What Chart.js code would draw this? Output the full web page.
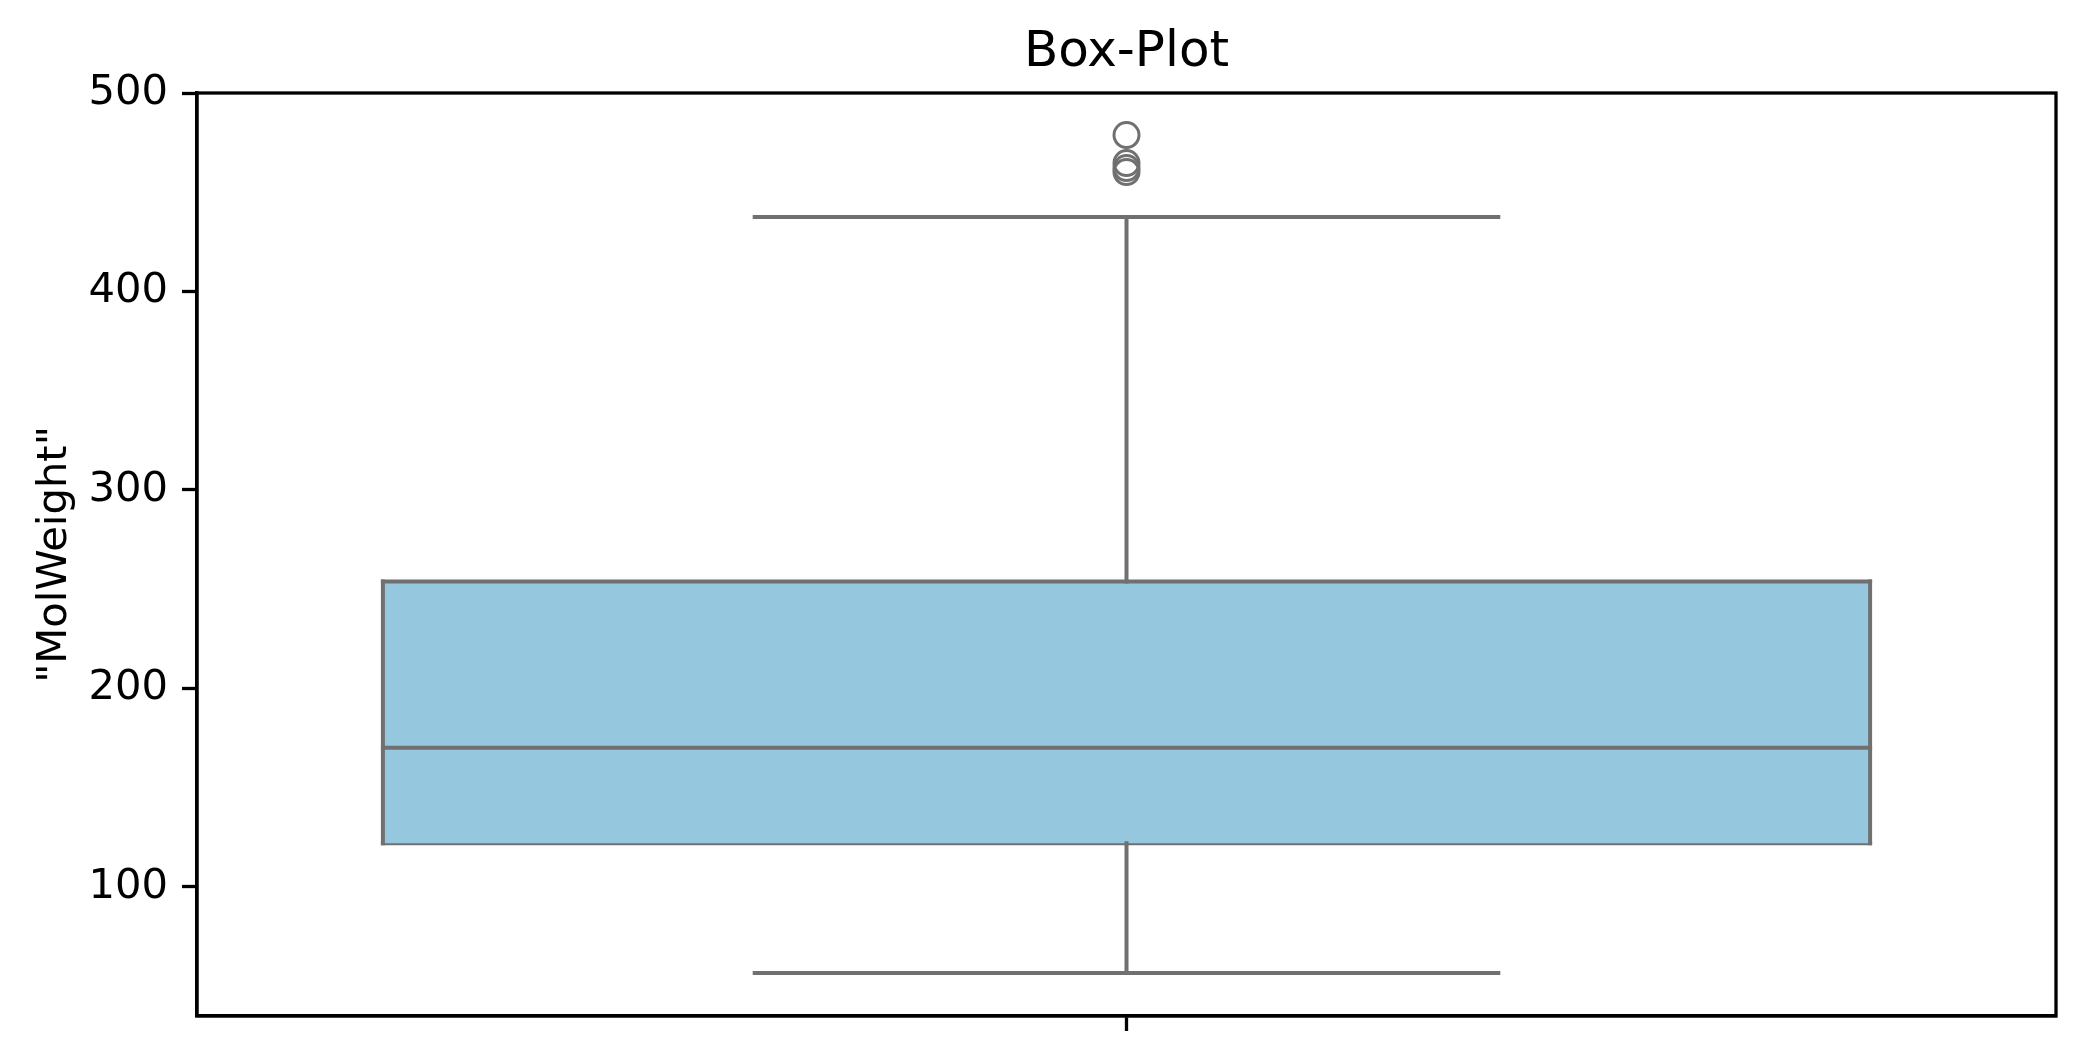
<!DOCTYPE html>
<html>
<head>
<meta charset="utf-8">
<script src="https://cdn.jsdelivr.net/npm/chart.js@4/dist/chart.umd.min.js"></script>
<style>
  html, body { margin: 0; padding: 0; background: #fff; }
  #wrap { width: 2087px; height: 1061px; }
</style>
</head>
<body>
<div id="wrap"><canvas id="box"></canvas></div>
<script>
// box plot values
const quartiles = [122, 170.2, 253.9]; // q1, median, q3
const whiskers = [56.7, 437.5]; // low, high
const outliers = [478.8, 464.7, 462.2, 460.2];
const yTicks = [100, 200, 300, 400, 500];
const xTicks = [0];

const edgeGray = "rgb(112, 112, 112)";
const boxBlue = "rgb(149, 200, 222)";
const halfBox = 0.4;
const halfCap = 0.2;

function segment(points, extra) {
  return Object.assign(
    {
      type: "line",
      data: points,
      borderColor: edgeGray,
      borderWidth: 4,
      borderCapStyle: "square",
      pointRadius: 0,
      fill: false,
      order: 1,
    },
    extra || {}
  );
}

function getBoxChart() {
  const [q1, median, q3] = quartiles;
  const [low, high] = whiskers;

  return {
    type: "scatter",
    data: {
      datasets: [
        {
          type: "scatter",
          data: outliers.map((v) => ({ x: 0, y: v })),
          pointStyle: "circle",
          pointRadius: 12.5,
          pointBorderWidth: 3,
          pointBorderColor: edgeGray,
          pointBackgroundColor: "rgba(0,0,0,0)",
          order: 0,
        },
        // box: q3 edge filled down to the q1 edge
        segment([{ x: -halfBox, y: q3 }, { x: halfBox, y: q3 }], {
          fill: "+1",
          backgroundColor: boxBlue,
          order: 2,
        }),
        segment([{ x: -halfBox, y: q1 }, { x: halfBox, y: q1 }], { order: 2 }),
        segment([{ x: -halfBox, y: q1 }, { x: -halfBox, y: q3 }]),
        segment([{ x: halfBox, y: q1 }, { x: halfBox, y: q3 }]),
        segment([{ x: -halfBox, y: median }, { x: halfBox, y: median }]),
        segment([{ x: 0, y: q1 }, { x: 0, y: low }]),
        segment([{ x: -halfCap, y: low }, { x: halfCap, y: low }]),
        segment([{ x: 0, y: q3 }, { x: 0, y: high }]),
        segment([{ x: -halfCap, y: high }, { x: halfCap, y: high }]),
      ],
    },
    options: {
      responsive: true,
      maintainAspectRatio: false,
      animation: false,
      devicePixelRatio: 1,
      layout: { padding: { left: 0, right: 31, top: 0, bottom: 0 } },
      plugins: {
        legend: { display: false },
        tooltip: { enabled: false },
        title: {
          display: true,
          text: "Box-Plot",
          color: "#000",
          font: { family: "DejaVu Sans", size: 50, weight: "normal" },
          padding: { top: 23, bottom: 10 },
        },
      },
      scales: {
        x: {
          type: "linear",
          min: -0.5,
          max: 0.5,
          offset: false,
          border: { display: true, color: "#000", width: 3.3 },
          grid: {
            drawOnChartArea: false,
            drawTicks: true,
            tickLength: 15,
            tickWidth: 3.3,
            tickColor: "#000",
          },
          afterBuildTicks: (scale) => {
            scale.ticks = xTicks.map((v) => ({ value: v }));
          },
          ticks: { callback: () => "", padding: 0 },
          afterFit: (scale) => {
            scale.height = 45;
          },
        },
        y: {
          min: 35,
          max: 500,
          border: { display: true, color: "#000", width: 3.3 },
          grid: {
            drawOnChartArea: false,
            drawTicks: true,
            tickLength: 15,
            tickWidth: 3.3,
            tickColor: "#000",
          },
          afterBuildTicks: (scale) => {
            scale.ticks = yTicks.map((v) => ({ value: v }));
          },
          ticks: {
            color: "#000",
            padding: 14,
            font: { family: "DejaVu Sans", size: 41.7 },
          },
          title: {
            display: true,
            text: "\"MolWeight\"",
            color: "#000",
            font: { family: "DejaVu Sans", size: 41.7 },
            padding: { top: 30, bottom: 0 },
          },
          afterFit: (scale) => {
            scale.width = 197;
          },
        },
      },
    },
    plugins: [
      {
        // centre the title over the axes, like matplotlib
        id: "titleOverAxes",
        afterLayout(chart) {
          const t = chart.titleBlock;
          if (!t) return;
          t.left = chart.chartArea.left;
          t.right = chart.chartArea.right;
          t.width = t.right - t.left;
        },
      },
      {
        // matplotlib draws a full frame round the axes
        id: "frame",
        afterDraw(chart) {
          const { ctx, chartArea } = chart;
          ctx.save();
          ctx.strokeStyle = "#000";
          ctx.lineWidth = 3.3;
          ctx.strokeRect(chartArea.left, chartArea.top, chartArea.right - chartArea.left, chartArea.bottom - chartArea.top);
          ctx.restore();
        },
      },
    ],
  };
}

const ctxBox = document.getElementById("box").getContext("2d");
new Chart(ctxBox, getBoxChart());
</script>
</body>
</html>
